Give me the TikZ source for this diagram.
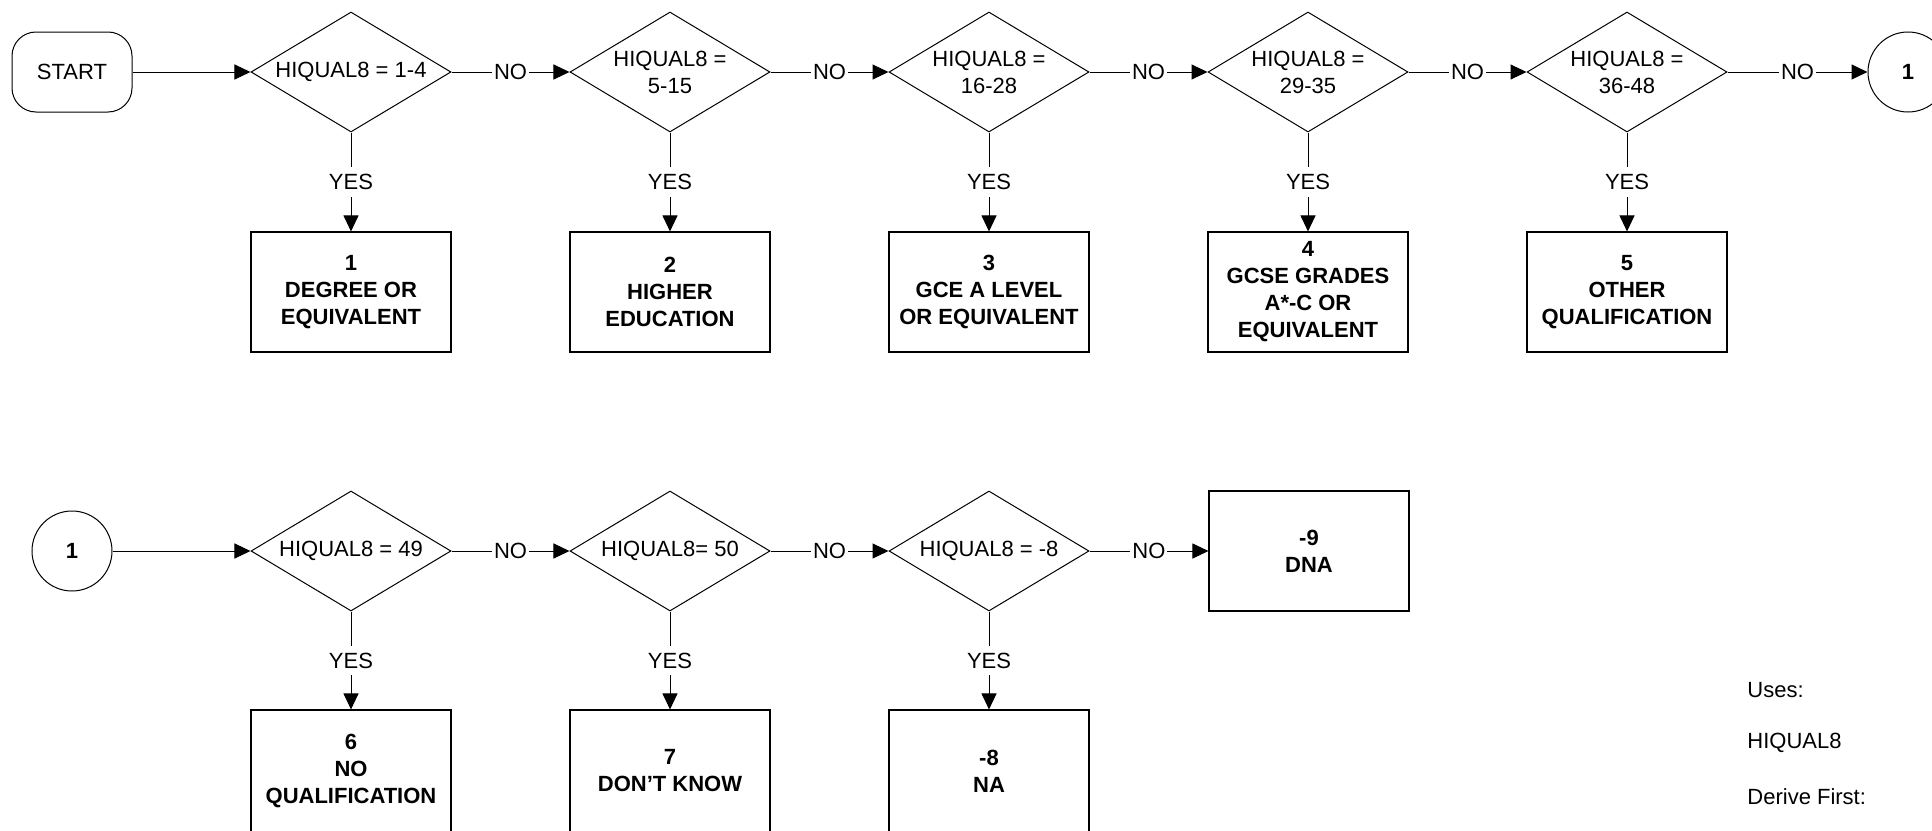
\documentclass[tikz,border=0pt]{standalone}
\usepackage{fontspec}
\setmainfont{Liberation Sans}
\usetikzlibrary{shapes.geometric,arrows.meta}
\tikzset{
  base/.style={font=\fontsize{11}{13.5}\selectfont, align=center},
  term/.style={base, draw, line width=0.5pt, rounded corners=12pt, minimum width=60pt, minimum height=40pt, inner sep=0pt},
  conn/.style={base, draw, line width=0.5pt, circle, minimum size=40pt, inner sep=0pt, font=\fontsize{11}{13.5}\selectfont\bfseries},
  dec/.style={base, draw, line width=0.5pt, diamond, minimum width=100pt, minimum height=60pt, inner sep=0pt, shape aspect=1.667},
  outbox/.style={base, draw, line width=0.55pt, minimum width=100pt, minimum height=60pt, inner sep=0pt, font=\fontsize{11}{13.5}\selectfont\bfseries},
  lowbox/.style={outbox, minimum height=61pt},
  arr/.style={line width=0.5pt, -{Triangle[length=8pt,width=7.5pt]}},
  lbl/.style={fill=white, inner xsep=1pt, inner ysep=3.5pt, font=\fontsize{11}{13.5}\selectfont},
  note/.style={anchor=west, inner sep=0pt, font=\fontsize{11}{13.5}\selectfont}
}
\begin{document}
\begin{tikzpicture}[x=0.5pt, y=-0.5pt]
\useasboundingbox (0,0) rectangle (1932,830);
% row 1
\node[term] (start) at (72,72) {START};
\node[dec] (d1) at (351,72) {HIQUAL8 = 1-4};
\node[dec] (d2) at (670,72) {HIQUAL8 =\\5-15};
\node[dec] (d3) at (989,72) {HIQUAL8 =\\16-28};
\node[dec] (d4) at (1308,72) {HIQUAL8 =\\29-35};
\node[dec] (d5) at (1627,72) {HIQUAL8 =\\36-48};
\node[conn] (c1) at (1908,72) {1};
\node[outbox] (b1) at (351,292) {1\\DEGREE OR\\EQUIVALENT};
\node[outbox] (b2) at (670,292) {2\\HIGHER\\EDUCATION};
\node[outbox] (b3) at (989,292) {3\\GCE A LEVEL\\OR EQUIVALENT};
\node[outbox] (b4) at (1308,292) {4\\GCSE GRADES\\A*-C OR\\EQUIVALENT};
\node[outbox] (b5) at (1627,292) {5\\OTHER\\QUALIFICATION};
\draw[arr] (start) -- (d1);
\draw[arr] (d1) -- node[lbl]{NO} (d2);
\draw[arr] (d2) -- node[lbl]{NO} (d3);
\draw[arr] (d3) -- node[lbl]{NO} (d4);
\draw[arr] (d4) -- node[lbl]{NO} (d5);
\draw[arr] (d5) -- node[lbl]{NO} (c1);
\draw[arr] (d1) -- node[lbl]{YES} (b1);
\draw[arr] (d2) -- node[lbl]{YES} (b2);
\draw[arr] (d3) -- node[lbl]{YES} (b3);
\draw[arr] (d4) -- node[lbl]{YES} (b4);
\draw[arr] (d5) -- node[lbl]{YES} (b5);
% row 2
\node[conn] (c2) at (72,551) {1};
\node[dec] (d6) at (351,551) {HIQUAL8 = 49};
\node[dec] (d7) at (670,551) {HIQUAL8= 50};
\node[dec] (d8) at (989,551) {HIQUAL8 = -8};
\node[outbox] (b9) at (1309,551) {-9\\DNA};
\node[lowbox] (b6) at (351,771) {6\\NO\\QUALIFICATION};
\node[lowbox] (b7) at (670,771) {7\\DON’T KNOW};
\node[lowbox] (b8) at (989,771) {-8\\NA};
\draw[arr] (c2) -- (d6);
\draw[arr] (d6) -- node[lbl]{NO} (d7);
\draw[arr] (d7) -- node[lbl]{NO} (d8);
\draw[arr] (d8) -- node[lbl]{NO} (b9);
\draw[arr] (d6) -- node[lbl]{YES} (b6);
\draw[arr] (d7) -- node[lbl]{YES} (b7);
\draw[arr] (d8) -- node[lbl]{YES} (b8);
% notes
\node[note] (n1) at (1747,690) {Uses:};
\node[note] (n2) at (1747,743) {HIQUAL8};
\node[note] (n3) at (1747,797) {Derive First:};
\end{tikzpicture}
\end{document}
